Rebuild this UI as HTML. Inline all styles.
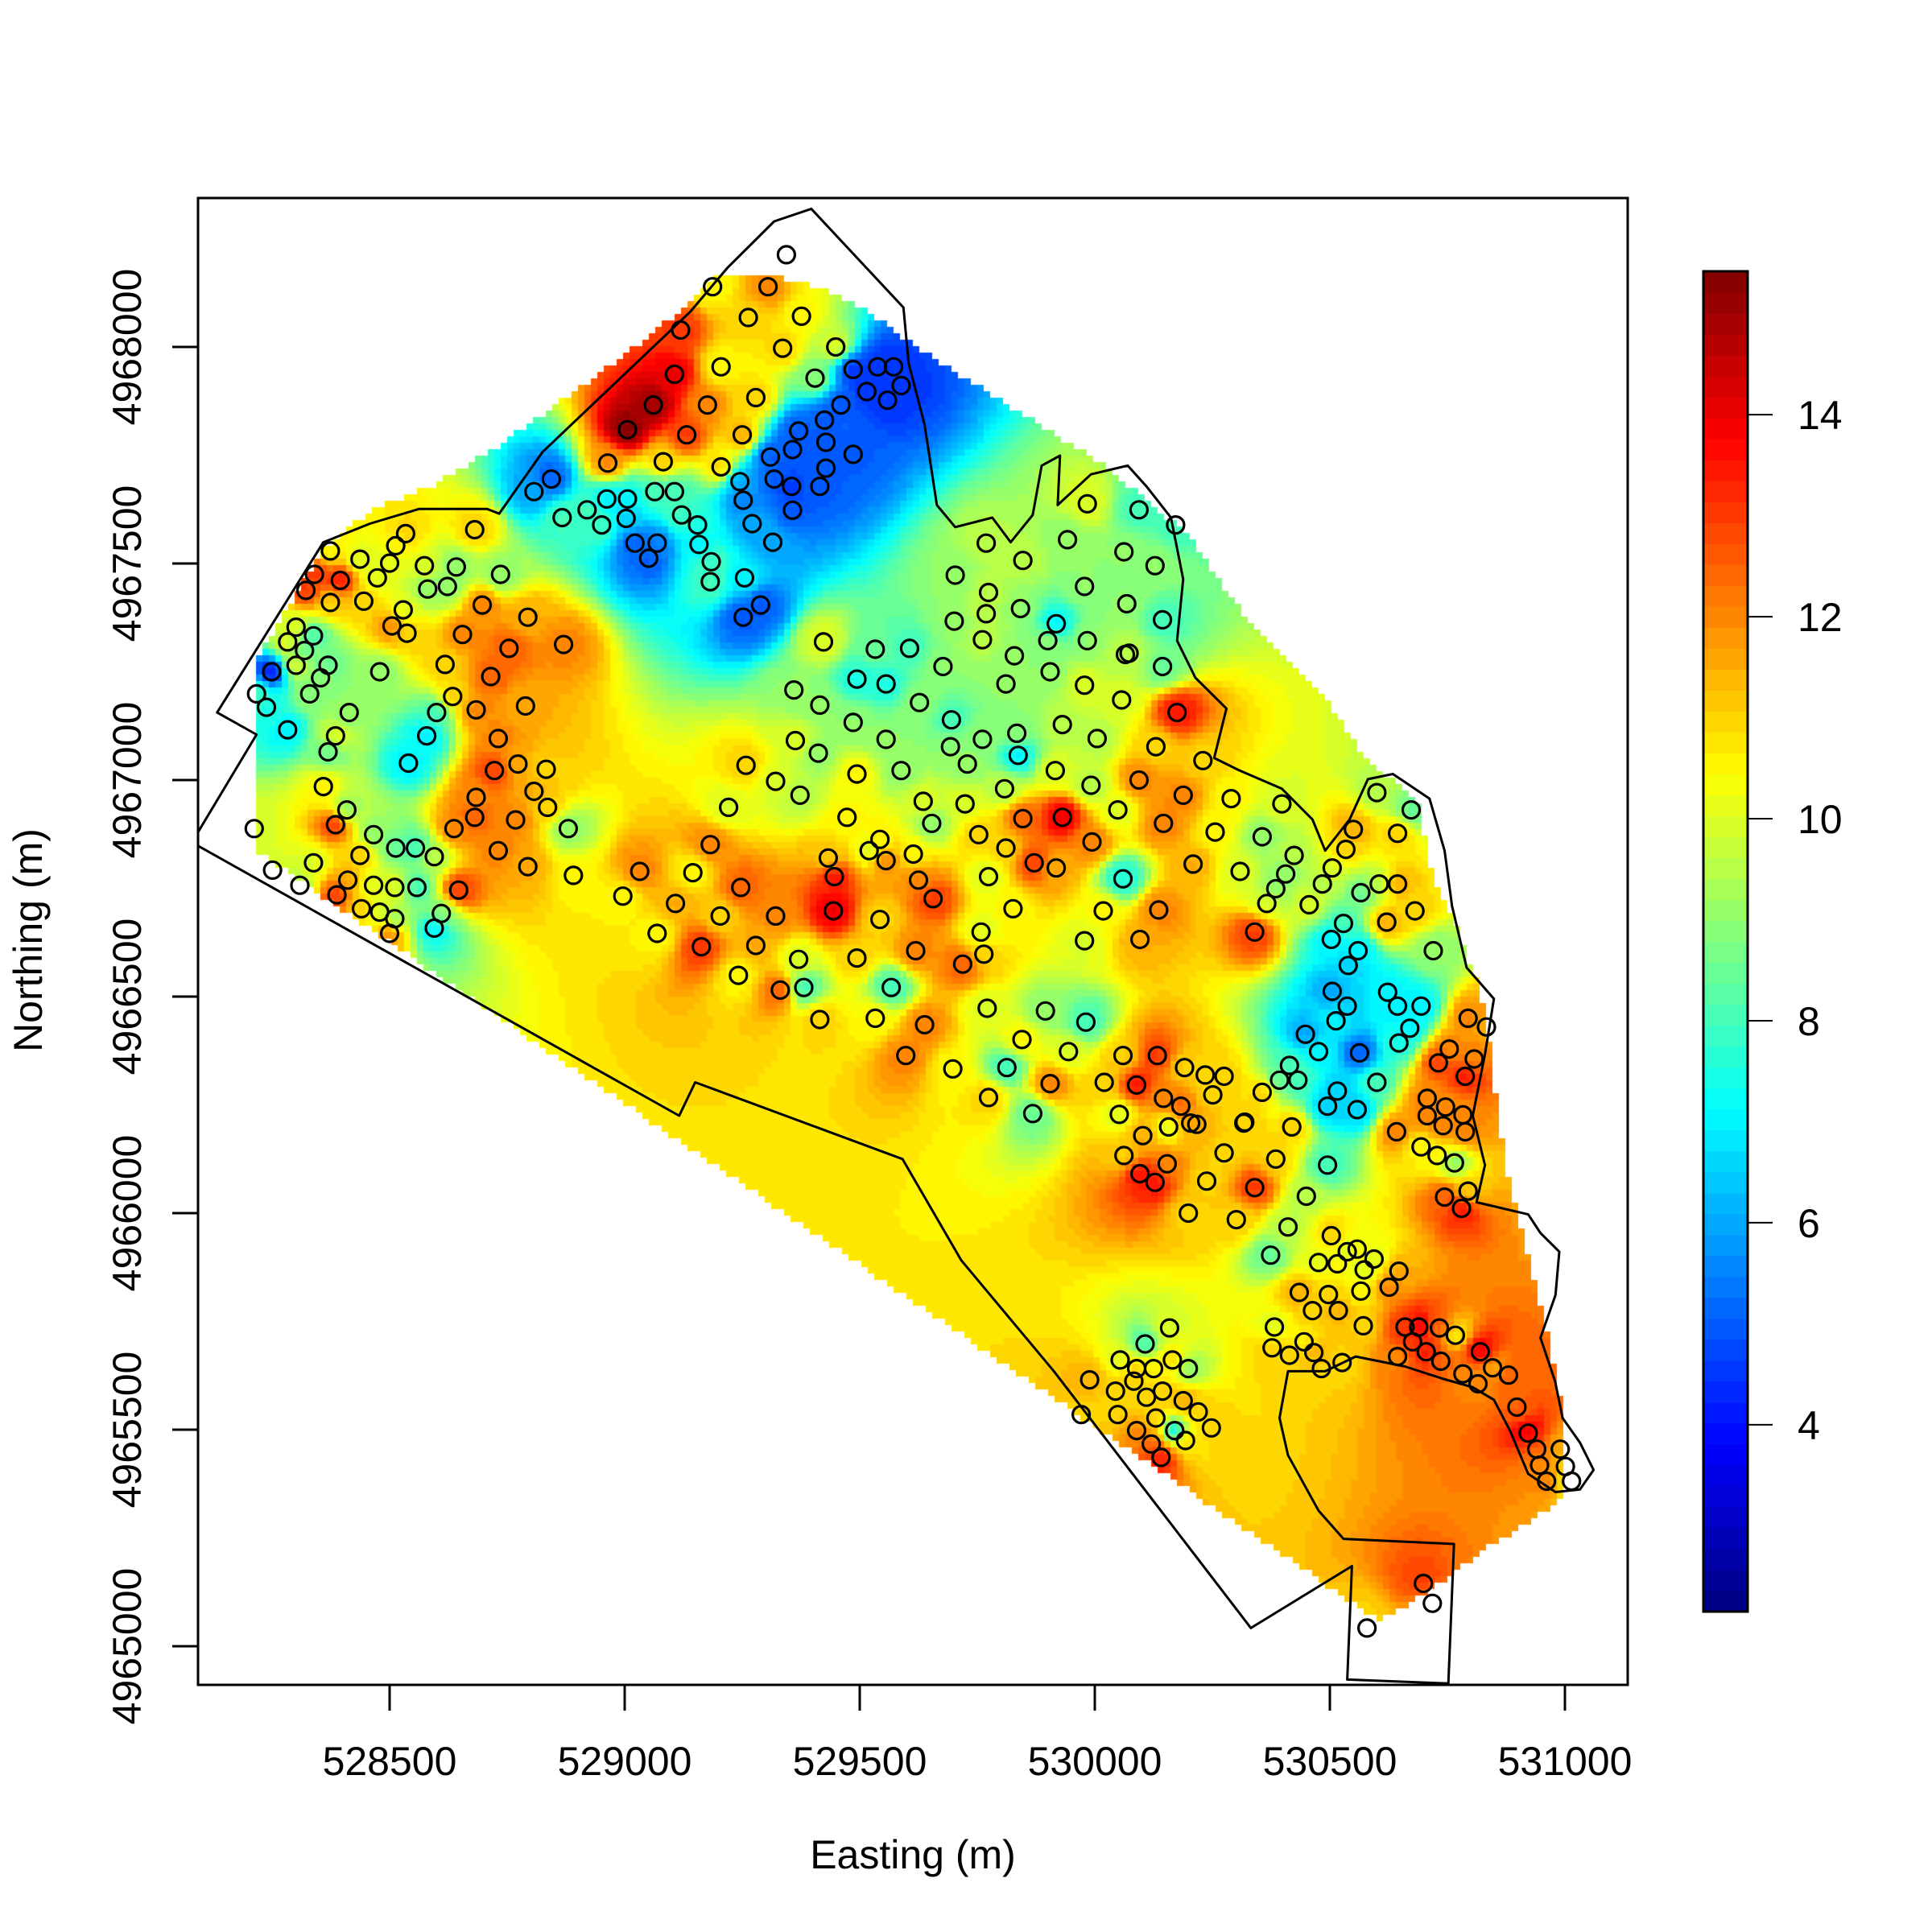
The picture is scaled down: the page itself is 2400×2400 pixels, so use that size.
<!DOCTYPE html>
<html>
<head>
<meta charset="utf-8">
<style>
html,body{margin:0;padding:0;background:#fff;}
#wrap{position:relative;width:2400px;height:2400px;overflow:hidden;}
#heat{position:absolute;left:0;top:0;}
#ov{position:absolute;left:0;top:0;}
text{font-family:"Liberation Sans",Arial,sans-serif;fill:#000;}
</style>
</head>
<body>
<div id="wrap">
<canvas id="heat" width="2400" height="2400"></canvas>
<svg id="ov" width="2400" height="2400" xmlns="http://www.w3.org/2000/svg">
  <defs><clipPath id="plotclip"><rect x="246" y="246" width="1776" height="1847"/></clipPath></defs>
  <g id="outline-g" clip-path="url(#plotclip)"></g>
  <g id="pts-g"></g>
  <rect x="246" y="246" width="1776" height="1847" fill="none" stroke="#000" stroke-width="3"/>
  <g id="xaxis-g"></g>
  <g id="yaxis-g"></g>
  <text x="1134" y="2321" font-size="50" text-anchor="middle">Easting (m)</text>
  <text transform="translate(52,1168) rotate(-90)" font-size="50" text-anchor="middle">Northing (m)</text>
  <g id="cbar-g"></g>
</svg>
</div>
<script>
// ---- data ----
const xTicks = [528500, 529000, 529500, 530000, 530500, 531000];
const yTicks = [4965000, 4965500, 4966000, 4966500, 4967000, 4967500, 4968000];
const cbTicks = [4, 6, 8, 10, 12, 14];
const zMin = 2.15, zMax = 15.42;
const ptEasting = [529344,529187,529305,529263,529376,529119,529336,529449,529205,529106,529405,529279,529176,529061,529006,529132,529250,528964,529082,529205,
529486,529538,529572,529515,529559,529588,529460,529425,529370,529357,529310,529486,529428,529428,529318,529355,529415,529357,529245,529252,529271,529315,529255,529289,529252,
528807,528844,528867,528920,528951,528962,529006,529003,529064,529106,529121,529155,529158,529184,529182,529022,529051,529069,
528374,528340,528395,528322,528374,528437,528513,528534,528500,528474,528445,528529,528574,528642,528681,528736,528581,528623,528697,528505,528537,528301,528283,528338,528319,528301,528249,528353,528330,528238,528217,528283,528369,528479,528414,528385,528369,
528655,528715,528754,528794,528870,528618,528634,528684,528789,528731,528600,528579,528540,528773,528723,528833,528807,528359,528409,528385,528338,528212,528251,528309,
528684,528681,528768,528836,528880,528637,528731,528794,528891,528466,528513,528555,528595,528437,528411,528466,528511,528558,528647,528388,528440,528479,528511,528610,528595,528500,
529423,529533,529606,529677,529494,529556,529360,529415,529627,529486,529556,529363,529412,529258,529321,529373,529494,529588,529693,529695,529761,529729,529635,529653,529724,
529221,529182,529145,529108,529032,528996,529069,529163,529203,529247,529279,529321,529242,529331,529370,529415,529433,529473,529543,529520,529556,529614,529446,529444,529494,529543,529625,529656,529619,529719,529764,529758,529826,529774,529753,529811,529847,529931,529871,529994,529918,
529381,529567,529533,529638,529598,529698,529771,529845,529813,529774,529868,529905,529895,529944,529981,529978,530018,530060,530096,530136,530049,529992,529916,529837,529808,529834,529811,529829,529900,529984,529905,529931,530005,530057,530065,529978,529769,529761,529701,529703,529774,529842,529847,529942,529978,529918,529984,530062,530094,530172,530128,530068,530144,530144,530073,529769,
530094,530130,530175,530188,530146,530230,530256,530209,530290,530309,530356,530398,530340,530366,530385,530406,530424,530456,530484,530505,530534,530550,530600,530673,530644,530644,530605,530681,530621,530566,530529,530560,530503,530539,530505,530537,530513,530448,530476,530563,530600,530558,530516,530495,530414,530393,530432,530356,530319,530419,530385,530495,530450,530411,530374,
530623,530644,530670,530694,530647,530720,530731,530754,530788,530807,530794,530833,530707,530746,530783,530707,530741,530788,530694,530728,530765,530642,530744,530780,530794,
530060,530020,530052,530089,530133,530146,530102,530062,530096,530128,530154,530157,530191,530183,530204,530235,530275,530251,530217,530275,530238,530199,530301,530340,530317,
530435,530463,530497,530476,530503,530516,530537,530558,530573,530566,530594,530571,530518,530626,530647,530382,530377,530414,530445,530466,530482,530526,530644,530676,530689,530660,530705,530736,530733,530767,530783,530815,530820,530846,530880,530898,530922,530940,530946,530961,530990,531001,531014,530699,530718,530579,
530107,530159,530054,530089,530125,530165,530199,530044,530083,530110,530144,530188,529989,529971,530049,530130,530170,530220,530248,530193,530089,530120,530141];
const ptNorthing = [4968213,4968139,4968139,4968068,4968071,4968039,4967997,4968000,4967954,4967937,4967928,4967883,4967866,4967866,4967809,4967797,4967797,4967732,4967735,4967723,
4967948,4967954,4967954,4967897,4967877,4967911,4967866,4967831,4967806,4967763,4967746,4967752,4967780,4967720,4967695,4967678,4967678,4967623,4967689,4967646,4967592,4967549,4967467,4967404,4967376,
4967666,4967695,4967606,4967624,4967589,4967649,4967649,4967604,4967666,4967666,4967612,4967589,4967544,4967504,4967458,4967547,4967512,4967547,
4967529,4967475,4967461,4967438,4967410,4967510,4967541,4967569,4967501,4967467,4967413,4967393,4967495,4967492,4967578,4967475,4967441,4967447,4967404,4967356,4967339,4967353,4967319,4967333,4967299,4967265,4967250,4967236,4967199,4967168,4967199,4967116,4967265,4967250,4967156,4967102,4967065,
4967336,4967239,4967304,4967376,4967313,4967267,4967193,4967162,4967171,4967096,4967156,4967102,4967039,4967037,4967022,4967025,4966974,4966985,4966931,4966897,4966809,4966888,4966792,4966757,
4966960,4966914,4966908,4966937,4966888,4966888,4966837,4966800,4966780,4966874,4966843,4966843,4966823,4966826,4966769,4966757,4966752,4966752,4966746,4966735,4966703,4966695,4966680,4966692,4966658,4966646,
4967319,4967302,4967304,4967262,4967233,4967222,4967208,4967173,4967179,4967133,4967094,4967091,4967062,4967034,4966997,4966965,4967014,4967022,4967077,4967139,4967094,4967037,4966951,4966900,4966945,
4966937,4966851,4966786,4966715,4966789,4966732,4966646,4966615,4966686,4966752,4966618,4966686,4966549,4966515,4966586,4966447,4966820,4966914,4966863,4966837,4966814,4966829,4966777,4966698,4966589,4966678,4966769,4966726,4966606,4966575,4966598,4966649,4966703,4966777,4966874,4966843,4966911,4966914,4966809,4966857,4966797,
4966521,4966521,4966450,4966435,4966364,4966333,4966473,4966401,4966336,4966267,4966230,4966299,4966467,4966373,4966441,4966629,4966698,4966772,4966632,4966700,4966931,4966988,4967022,4967057,4966980,4967108,4967222,4967287,4967322,4967322,4967250,4967128,4967096,4967185,4967290,4967219,4967384,4967324,4967367,4967473,4967433,4967396,4967507,4967555,4967447,4967361,4967638,4967527,4967624,4967589,4967495,4967407,4967370,4967262,4967293,4967547,
4967000,4967077,4967156,4966965,4966900,4967045,4966880,4966806,4966957,4966789,4966869,4966945,4966649,4966715,4966749,4966783,4966826,4966712,4966760,4966797,4966840,4966886,4966971,4966931,4966877,4966760,4966760,4966698,4966672,4966740,4966669,4966606,4966632,4966572,4966512,4966478,4966444,4966413,4966373,4966370,4966302,4966239,4966282,4966247,4966341,4966307,4966307,4966279,4966210,4966199,4966125,4966111,4966039,4965968,4965903,
4966510,4966478,4966427,4966478,4966393,4966606,4966347,4966379,4966316,4966356,4966450,4966430,4966265,4966245,4966227,4966225,4966202,4966188,4966153,4966133,4966116,4966188,4966037,4966011,4966051,
4966364,4966302,4966228,4966296,4966364,4966265,4966179,4966133,4966091,4966071,4966114,4966199,4966336,4966247,4966208,4966319,4966316,4966273,4966205,4966139,4966074,4966000,4965985,4966059,4966208,
4965817,4965775,4965812,4965886,4965948,4965883,4965911,4965917,4965869,4965820,4965894,4965740,4965775,4965829,4965866,4965737,4965689,4965672,4965703,4965678,4965641,4965655,4965669,4965703,4965737,4965737,4965680,4965658,4965735,4965718,4965629,4965606,4965680,4965643,4965626,4965552,4965492,4965455,4965418,4965381,4965455,4965415,4965381,4965145,4965099,4965042,
4965698,4965735,4965661,4965641,4965641,4965661,4965641,4965589,4965612,4965575,4965589,4965567,4965615,4965535,4965535,4965527,4965498,4965541,4965504,4965475,4965498,4965467,4965436];
const ptValue = [10,10.5,12,11,10.5,13,11,10,10.5,14,9,11,12,15,15.3,13,11.5,12,11,11,
4.5,4.5,4.5,4.5,4.5,4.5,5,5,5,5,5,5,5,5,5,4.5,5,5,6,5.5,6,6,7,5,5,
6,5,8,8,8,7,7,6.5,8,8,8,7.5,7,8,8,5,5,5.5,
10.5,13,13.5,13,11,10,10.5,11,10,10,11,10,10,9,11,9,9,9,12,12,11,10,10,8,8.5,10,4,9,9,7.5,8,7,8.5,9,9,10,8.5,
12,12.5,12.5,11.5,12,11,11,12,11.5,12,8,7,7,11.5,13,11,11.5,10.5,9,13,10,10,10,9.5,
12,12.5,12,11,9,12,12,11.5,10.5,9,8.5,8,9.5,11,11.5,10,10,8,13,13,11,10,9,9,7,12,
10,8.5,8,9,7.5,7.5,9,9,9,9,9,10,9,11,10,9.5,10.5,9,9,8,9,9,10,9,10,
10,12,10.5,11.5,12,10.5,10.5,13,11,12.5,11.5,12,10.5,12.5,10,11,11,10.5,10.5,10,12,10.5,13.5,14,11,11,12,13,12,12.5,11,10,10.5,10,11,11,12.5,14,13,12,11.5,
8,8,10.5,12,12,10.5,10,10.5,8,11,8.5,12,9,10,8,10,10.5,7.5,11.5,12,10,9.5,10,7,9.5,9,9,9,9,9,9,9.5,9.5,10,9.5,10,9.5,9.5,9,9,9.5,9,9.5,9,9,7,10,9,8,8,9,9,8,8.5,9.5,9.5,
12,11,13.5,12,12,11,10.5,11.5,10.5,10,9,10,13,10,9,9,9.5,10,9.5,10,11,11.5,9.5,8.5,11,11.5,9.5,11,11.5,8.5,8,7,7,6.5,6,6.5,7,6,7,5,8,6.5,6.5,6.5,8,8.5,8,11,11,11,11,8,9.5,9.5,8.5,
7,7,7,7,7.5,9,13,12,13.5,12,12,11.5,12,12,12,12,12,12,10.5,10.5,9,12,12.5,13.5,11,
11,11,10,13.5,13,12,11.5,11,13.5,13.5,12,10,11,12.5,11.5,11,11,11,11.5,11,11,11,11,13,11,
11.5,11,11,10,11,10.5,10,10.5,10,10.5,10,11,11.5,12,11.5,10,11,11,10.5,11.5,11,11,12,13,14,13,13.5,12.5,12.5,10.5,12,12,14,11.5,12.5,12.5,14,12.5,12,12,11.5,11,10,13,11,11,
8,10,10,11,10.5,11,9,11,11,11,11,11.5,11.5,11,11,11,7,11,11,11,12,12.5,13.5];
// extent of interpolated surface (easting, northing)
const surfE = [528217,528359,528458,528589,528720,528851,528956,529061,529140,529205,529297,529402,529507,529612,529716,529821,529926,530031,530091,530204,530290,530377,530474,530589,530686,530715,530778,530817,530843,530856,530883,530922,530961,531001,531001,530922,530817,530712,530607,530293,529769,529245,528720,528217];
const surfN = [4967276,4967535,4967621,4967678,4967763,4967863,4967948,4968034,4968105,4968171,4968171,4968142,4968091,4968005,4967934,4967863,4967792,4967720,4967663,4967564,4967421,4967307,4967213,4967034,4966957,4966792,4966638,4966524,4966381,4966239,4966068,4965897,4965726,4965530,4965345,4965288,4965213,4965128,4965057,4965290,4965680,4966071,4966461,4966837];
// site boundary (easting, northing)
const bndE = [528091,528217,528133,528359,528458,528563,528707,528733,528825,529140,529218,529318,529397,529593,529604,529638,529664,529703,529782,529821,529868,529887,529926,529921,529992,530070,530110,530162,530188,530175,530214,530280,530254,530306,530398,530463,530490,530542,530581,530634,530712,530744,530760,530791,530849,530830,530804,530830,530812,530922,530948,530988,530980,530948,530979,530995,531032,531061,531032,530980,530922,530883,530849,530804,530739,530660,530555,530490,530411,530393,530411,530476,530529,530764,530752,530537,530547,530332,529913,529716,529591,529150,529116,528091];
const bndN = [4966877,4967105,4967156,4967549,4967592,4967626,4967626,4967615,4967757,4968082,4968182,4968290,4968319,4968091,4967963,4967820,4967635,4967584,4967606,4967549,4967612,4967726,4967749,4967635,4967706,4967726,4967678,4967606,4967464,4967322,4967236,4967165,4967051,4967023,4966980,4966909,4966837,4966909,4967002,4967014,4966957,4966837,4966709,4966567,4966495,4966367,4966225,4966111,4966025,4965997,4965954,4965911,4965811,4965712,4965612,4965527,4965470,4965407,4965362,4965356,4965398,4965498,4965569,4965598,4965618,4965646,4965669,4965635,4965635,4965527,4965441,4965313,4965248,4965236,4964914,4964923,4965185,4965042,4965635,4965891,4966125,4966302,4966225,4966849];

// ---- scales ----
const X = e => 484 + (e - 528500) * 0.584;
const Y = n => 431 + (4968000 - n) * 0.538;
const PL = 246, PR = 2022, PT = 246, PB = 2093;
const CB_L = 2116, CB_R = 2171, CB_T = 337, CB_B = 2002;
const CY = v => CB_B - (v - zMin) / (zMax - zMin) * (CB_B - CB_T);
const NCOL = 64;
function jet(t){
  const c = x => Math.max(0, Math.min(1, x));
  const r = c(1.5 - Math.abs(4*t - 3)), g = c(1.5 - Math.abs(4*t - 2)), b = c(1.5 - Math.abs(4*t - 1));
  return [Math.round(r*255), Math.round(g*255), Math.round(b*255)];
}
const palette = [];
for (let i = 0; i < NCOL; i++) palette.push(jet((i + 0.5) / NCOL));
function colorFor(v){
  let i = Math.floor((v - zMin) / (zMax - zMin) * NCOL);
  i = Math.max(0, Math.min(NCOL - 1, i));
  return palette[i];
}
const NS = 'http://www.w3.org/2000/svg';
function mk(tag, attrs, parent){
  const el = document.createElementNS(NS, tag);
  for (const k in attrs) el.setAttribute(k, attrs[k]);
  parent.appendChild(el);
  return el;
}

// ---- heatmap (inverse-distance weighting) ----
(function(){
  const cv = document.getElementById('heat');
  const ctx = cv.getContext('2d');
  const poly = surfE.map((e, i) => [X(e), Y(surfN[i])]);
  function inside(px, py){
    let c = false;
    for (let i = 0, j = poly.length - 1; i < poly.length; j = i++){
      const [xi, yi] = poly[i], [xj, yj] = poly[j];
      if (((yi > py) !== (yj > py)) && (px < (xj - xi) * (py - yi) / (yj - yi) + xi)) c = !c;
    }
    return c;
  }
  const px = ptEasting.map(X), py = ptNorthing.map(Y);
  const S = 8;
  for (let y = PT; y < PB; y += S){
    for (let x = PL; x < PR; x += S){
      const cx = x + S/2, cy = y + S/2;
      if (!inside(cx, cy)) continue;
      let sw = 0, sv = 0;
      for (let k = 0; k < px.length; k++){
        const dx = px[k] - cx, dy = py[k] - cy;
        const d2 = dx*dx + dy*dy + 150;
        const w = 1 / (d2 * d2);
        sw += w; sv += w * ptValue[k];
      }
      const col = colorFor(sv / sw);
      ctx.fillStyle = 'rgb(' + col[0] + ',' + col[1] + ',' + col[2] + ')';
      ctx.fillRect(x, y, S, S);
    }
  }
})();

// ---- boundary ----
(function(){
  const g = document.getElementById('outline-g');
  const d = bndE.map((e, i) => (i ? 'L' : 'M') + X(e).toFixed(1) + ' ' + Y(bndN[i]).toFixed(1)).join(' ');
  const p = mk('path', {d: d, fill: 'none', stroke: '#000', 'stroke-width': 3, 'stroke-linejoin': 'round'}, g);
  
  
})();

// ---- points ----
(function(){
  const g = document.getElementById('pts-g');
  for (let i = 0; i < ptEasting.length; i++){
    const c = mk('circle', {cx: X(ptEasting[i]).toFixed(1), cy: Y(ptNorthing[i]).toFixed(1), r: 10.5, fill: 'none', stroke: '#000', 'stroke-width': 3.2}, g);
    
    
  }
})();

// ---- axes ----
(function(){
  const gx = document.getElementById('xaxis-g');
  xTicks.forEach(t => {
    const x = X(t);
    const l = mk('line', {x1: x, x2: x, y1: PB, y2: PB + 32, stroke: '#000', 'stroke-width': 3}, gx);
    
    
    const tx = mk('text', {x: x, y: 2205, 'font-size': 50, 'text-anchor': 'middle'}, gx);
    tx.textContent = t;
    
    
  });
  const gy = document.getElementById('yaxis-g');
  yTicks.forEach(t => {
    const y = Y(t);
    const l = mk('line', {x1: PL - 32, x2: PL, y1: y, y2: y, stroke: '#000', 'stroke-width': 3}, gy);
    
    
    const tx = mk('text', {transform: 'translate(175,' + y + ') rotate(-90)', 'font-size': 50, 'text-anchor': 'middle'}, gy);
    tx.textContent = t;
    
    
  });
})();

// ---- colorbar ----
(function(){
  const g = document.getElementById('cbar-g');
  const h = (CB_B - CB_T) / NCOL;
  for (let i = 0; i < NCOL; i++){
    const c = palette[i];
    const r = mk('rect', {x: CB_L, y: (CB_B - (i + 1) * h).toFixed(2), width: CB_R - CB_L, height: (h + 0.6).toFixed(2), fill: 'rgb(' + c[0] + ',' + c[1] + ',' + c[2] + ')'}, g);
    
    
  }
  const fr = mk('rect', {x: CB_L, y: CB_T, width: CB_R - CB_L, height: CB_B - CB_T, fill: 'none', stroke: '#000', 'stroke-width': 3}, g);
  
  
  cbTicks.forEach(t => {
    const y = CY(t);
    const l = mk('line', {x1: CB_R, x2: CB_R + 31, y1: y, y2: y, stroke: '#000', 'stroke-width': 2}, g);
    
    
    const tx = mk('text', {x: 2233, y: y + 18, 'font-size': 50}, g);
    tx.textContent = t;
    
    
  });
})();
</script>
</body>
</html>
